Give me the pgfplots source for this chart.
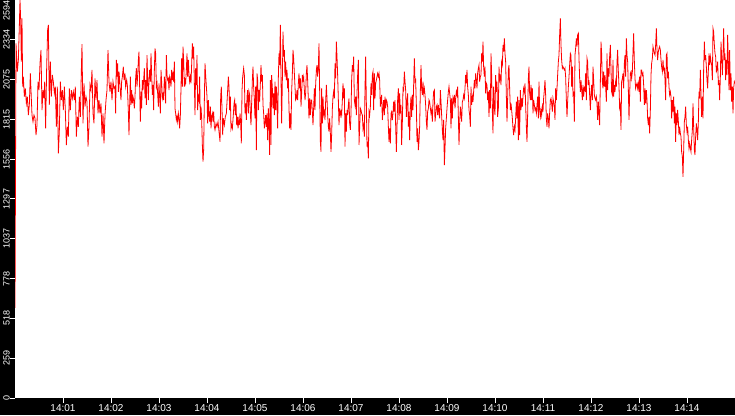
\documentclass[border=0pt]{standalone}
\usepackage{fontspec}
\setmainfont{Liberation Sans}
\usepackage{pgfplots}
\pgfplotsset{compat=1.18}

\begin{document}
\begin{tikzpicture}[x=1pt,y=1pt]
% black frame behind the plot area
\fill[black] (0,0) rectangle (735,415);
\begin{axis}[
    at={(15pt,17pt)}, anchor=south west,
    scale only axis,
    width=720pt, height=398pt,
    xmin=0, xmax=900,
    ymin=0, ymax=2594,
    axis background/.style={fill=white},
    axis line style={draw=none},
    tick align=outside,
    major tick length=5pt,
    every tick/.style={white, line width=1pt},
    xtick={60,120,180,240,300,360,420,480,540,600,660,720,780,840},
    xticklabels={14:01,14:02,14:03,14:04,14:05,14:06,14:07,14:08,14:09,14:10,14:11,14:12,14:13,14:14},
    ytick={0,259.4,518.8,778.2,1037.6,1297,1556.4,1815.8,2075.2,2334.6,2594},
    yticklabels={0,259,518,778,1037,1297,1556,1815,2075,2334,\makebox[0pt][r]{2594}},
    xtick pos=bottom, ytick pos=left,
    minor tick num=0,
    /pgf/number format/assume math mode=true,
    xticklabel style={white, font=\fontsize{10}{10}\selectfont, anchor=north, inner sep=0pt, yshift=-1pt},
    yticklabel style={white, font=\fontsize{9}{9}\selectfont, rotate=90, anchor=south, inner sep=0pt},
    clip=true,
]
\addplot[red, line width=0.8pt, no markers, sharp plot] coordinates {
(0,587)(1.25,2311)(2.9,2127)(4.2,2203)(5.4,2420)(6.25,2594)(7.1,2464)(7.9,2192)(8.75,2474)(9.6,2029)
(10.4,2094)(11.7,1964)(12.9,2018)(14.2,1920)(15.4,1964)(16.7,1844)(17.9,1910)(19.2,2116)(20.4,1953)(21.25,1844)
(22.5,1801)(23.75,1844)(25,1823)(26.25,1714)(27.5,1779)(28.75,2062)(30,2007)(31.25,2181)(32.5,2268)(33.75,1877)
(35,2007)(36.25,1953)(37.1,2062)(38.3,1757)(39.6,2159)(40.8,2398)(41.7,2431)(42.9,1910)(44.2,2192)(45.4,1964)
(46.7,2105)(47.9,2062)(49.2,1986)(50.4,2029)(51.7,1768)(52.9,2029)(54.2,1594)(55.4,1736)(56.7,2062)(57.9,1942)
(59.2,2007)(60.4,1877)(61.7,2029)(62.9,1877)(64.2,1649)(65.4,1768)(66.7,1703)(67.9,2018)(69.2,1877)(70.4,2007)
(71.7,1953)(72.9,1996)(74.2,1942)(75.4,2029)(76.7,1703)(77.9,1833)(79.2,1768)(80.4,1964)(81.7,1833)(82.9,2127)
(83.75,2307)(85,1790)(86.25,2051)(87.5,1899)(88.75,1964)(90,1931)(91.25,1638)(92.5,1768)(93.75,2040)(95,2007)
(96.25,2138)(97.5,1855)(98.75,1790)(100,2083)(101.25,1942)(102.5,2072)(103.75,1855)(105,1942)(106.25,1855)(107.5,1920)
(108.75,1703)(110,1855)(111.25,1660)(112.5,1844)(113.75,1942)(115,2007)(116.25,2268)(117.5,2062)(118.75,1996)(120,2062)
(121.25,1942)(122.5,2062)(123.75,2018)
(125.0,2029)(125.8,1855)(126.7,2203)(127.5,2094)(128.3,2181)(129.2,1996)(130.0,2127)(130.8,2072)(131.7,1996)(132.5,1942)
(133.3,2062)(134.2,2094)(135.4,2159)(136.3,2072)(137.5,2116)(138.3,2029)(139.6,2072)(140.4,2040)(141.7,1866)(142.5,1714)
(143.3,1910)(144.2,2094)(145.0,1910)(145.8,2007)(146.7,1920)(147.5,1964)(148.3,1942)(149.2,1888)(150.0,1964)(150.8,2083)
(151.7,2149)(152.5,2029)(153.3,2094)(154.2,2203)(155.0,2257)(155.8,2029)(156.7,1801)(157.5,1996)(158.3,1888)(159.2,2072)
(160.0,2007)(160.8,2072)(161.7,2149)(162.5,1953)(163.3,2072)(164.2,1910)(165.0,2235)(165.8,2083)(166.7,1942)(167.5,2072)
(168.3,2138)(169.2,2062)(170.0,2246)(170.8,2105)(171.7,1975)(172.5,2040)(173.3,1877)(174.2,2138)(175.0,2279)(175.8,2246)
(176.7,2029)(177.5,2051)(178.3,1986)(179.2,1899)(180.0,2051)(180.8,1964)(181.7,1855)(182.5,2138)(183.3,2062)(184.2,1953)
(185.0,1975)(185.8,1942)(186.7,2094)(187.5,2051)(188.3,1920)(189.2,2235)(190.0,2105)(190.8,2072)(191.7,2083)(192.5,2007)
(193.3,2094)(194.2,2072)(195.0,2029)(195.8,2138)(196.7,2072)(197.5,2127)(198.3,2062)(199.2,2192)(200.0,1888)(200.8,1855)
(201.7,1812)(202.5,1833)(203.3,1801)(204.2,1855)(205.0,1823)(205.8,1757)(206.7,1844)(207.5,2018)(208.3,2214)(209.2,2029)
(210.0,2290)(210.8,2203)(211.7,2029)(212.5,2072)(213.3,2051)(214.2,2138)(215.0,2246)(215.8,2094)(216.7,2203)(217.5,2105)
(218.3,2062)(219.2,2094)(220.0,2051)(220.8,2170)(221.7,2311)(222.5,2214)(223.3,2290)(224.2,2051)(225.0,1844)(225.8,2149)
(226.7,2040)(227.5,2235)(228.3,1877)(229.2,1964)(230.0,1942)(230.8,2094)(231.7,1812)(232.5,1899)(233.3,1823)(234.2,1649)
(235.0,1540)(235.8,1616)(236.7,1942)(237.5,2181)(238.3,2105)(239.2,2029)(240.0,1964)(240.8,1790)(241.7,1942)(242.5,1844)
(243.3,1801)(244.2,1899)(245.0,1757)(245.8,1833)(246.7,1855)(247.5,1801)(248.3,1866)(249.2,1768)
(250.0,1747)(251.3,1790)(252.5,1768)(253.8,1801)(255.0,1736)(256.3,1670)(257.1,1964)(257.9,2029)(258.8,1877)(259.6,1714)
(260.4,1823)(261.7,1779)(262.9,1833)(264.2,1855)(265.4,1964)(266.7,2094)(267.5,2029)(268.3,1877)(269.2,1964)(270.0,1757)
(270.8,1779)(271.7,1757)(272.9,1844)(273.8,1920)(274.6,1942)(275.4,1844)(276.3,1920)(277.1,1779)(277.9,1833)(278.8,1757)
(279.6,1812)(280.4,1779)(281.3,1855)(282.1,1790)(282.9,1660)(283.8,2007)(284.6,2094)(285.8,2149)(286.7,2105)(287.5,1855)
(288.3,1920)(289.2,1812)(290.0,1964)(290.8,2007)(291.7,1855)(292.5,1996)(293.3,1975)(294.2,1855)(295.0,1779)(295.8,1920)
(296.7,2072)(297.5,2159)(298.3,2029)(299.2,1942)(300.0,1823)(300.8,2029)(301.7,1616)(302.5,2116)(303.3,2072)(304.2,1877)
(305.0,2007)(305.8,1931)(306.7,2051)(307.5,2170)(308.3,2062)(309.2,2105)(310.0,1910)(310.8,1855)(311.7,1757)(312.5,1790)
(313.3,1844)(314.2,1768)(315.0,1855)(315.8,1681)(316.7,1888)(317.5,1801)(318.3,1584)(319.2,2072)(320.0,1649)(320.8,2105)
(321.7,2018)(322.5,1888)(323.3,1986)(324.2,1844)(325.0,2062)(325.8,1877)(326.7,2029)(327.5,1910)(328.3,1757)(329.2,2094)
(330.0,2246)(330.8,2170)(331.7,2431)(332.5,2094)(333.3,1790)(334.2,2072)(335.0,2388)(335.8,2225)(336.7,2268)(337.5,2094)
(338.3,2192)(339.2,2072)(340.0,2138)(340.8,2018)(341.7,2083)(342.5,1888)(343.3,1757)(344.2,1855)(345.0,1747)(345.8,1996)
(346.7,2116)(347.5,2268)(348.3,2214)(349.2,2116)(350.0,2029)(350.8,1942)(351.7,1953)(352.5,2007)(353.3,1942)(354.2,2051)
(355.0,2116)(355.8,2018)(356.7,2083)(357.5,1899)(358.3,1986)(359.2,2105)(360.0,2072)(360.8,2094)(361.7,2007)(362.5,1942)
(363.3,1986)(364.2,2116)(365.0,2170)(365.8,2072)(366.7,1942)(367.5,1823)(368.3,1953)(369.2,1844)(370.0,1942)(370.8,1942)
(371.7,1866)(372.5,1779)(373.3,1888)(374.2,2018)
(375.0,1877)(375.8,2040)(376.7,2138)(377.5,2170)(378.3,2094)(379.2,2159)(380.0,2311)(380.8,2007)(381.7,1670)(382.5,1605)
(383.3,2018)(384.2,1790)(385.0,1964)(385.8,1844)(386.7,1866)(387.5,1812)(388.3,1931)(389.2,2040)(390.0,1953)(390.8,1844)
(391.7,1768)(392.5,1736)(393.3,1823)(394.2,1725)(395.0,1605)(395.8,1714)(396.7,1888)(397.5,1964)(398.3,1996)(399.2,1953)
(400.0,2181)(400.8,2083)(401.7,2322)(402.5,2225)(403.3,2105)(404.2,1942)(405.0,1779)(405.8,1888)(406.7,1844)(407.5,1866)
(408.3,1844)(409.2,1942)(410.0,2051)(410.8,1953)(411.7,2018)(412.5,1638)(413.3,1855)(414.2,1736)(415.0,1877)(415.8,1844)
(416.7,1910)(417.5,1953)(418.3,1790)(419.2,1747)(420.0,1855)(420.8,2072)(421.7,2170)(422.5,2127)(423.3,2225)(424.2,1942)
(425.0,1910)(425.8,1964)(426.7,1844)(427.5,1986)(428.3,2105)(429.2,2203)(430.0,1649)(430.8,1757)(431.7,1888)(432.5,1877)
(433.3,1855)(434.2,1844)(435.0,1757)(435.8,1779)(436.7,1703)(437.5,2018)(438.3,2225)(439.2,1920)(440.0,1638)(440.8,1670)
(441.7,1562)(442.5,1866)(443.3,1844)(444.2,1899)(445.0,2051)(445.8,1975)(446.7,2105)(447.5,2127)(448.3,1877)(449.2,2116)
(450.0,1953)(450.8,2051)(451.7,2072)(452.5,2094)(453.3,2116)(454.2,2094)(455.0,2116)(455.8,2072)(456.7,1899)(457.5,1942)
(458.3,1975)(459.2,1812)(460.0,1877)(460.8,1942)(461.7,1844)(462.5,1964)(463.3,1888)(464.2,1942)(465.0,1931)(465.8,1899)
(466.7,1768)(467.5,1670)(468.3,1757)(469.2,1660)(470.0,1855)(470.8,1866)(471.7,1812)(472.5,1855)(473.3,1931)(474.2,1866)
(475.0,1942)(475.8,1779)(476.7,1605)(477.5,1757)(478.3,1942)(479.2,2018)(480.0,1812)(480.8,1986)(481.7,1855)(482.5,1910)
(483.3,1649)(484.2,1801)(485.0,2018)(485.8,2007)(486.7,2127)(487.5,2062)(488.3,2007)(489.2,1833)(490.0,1931)(490.8,1986)
(491.7,1768)(492.5,1866)(493.3,1681)(494.2,1888)(495.0,1964)(495.8,1833)(496.7,1975)(497.5,1877)(498.3,2040)(499.2,2214)
(500.0,2062)(500.8,2072)(501.7,1910)(502.5,1670)(503.3,1757)(504.2,1616)(505.0,1670)(505.8,1768)(506.7,2007)(507.5,2170)
(508.3,2018)(509.2,1975)(510.0,2062)(510.8,1986)(511.7,2018)(512.5,1975)(513.3,1910)(514.2,1801)(515.0,1747)(515.8,1866)
(516.7,1888)(517.5,1942)(518.3,1931)(519.2,1888)(520.0,1855)(520.8,1877)(521.7,1801)(522.5,1931)(523.3,1996)(524.2,2007)
(525.0,1801)(525.8,1844)(526.7,1899)(527.5,1910)(528.3,1844)(529.2,1910)(530.0,1855)(530.8,1823)(531.7,2007)(532.5,1931)
(533.3,1844)(534.2,1747)(535.0,1681)(535.8,1812)(536.7,1518)(537.5,1627)(538.3,1757)(539.2,1823)(540.0,1888)(540.8,1942)
(541.7,1996)(542.5,2029)(543.3,1986)(544.2,1942)(545.0,1757)(545.8,1953)(546.7,1823)(547.5,1953)(548.3,1931)(549.2,1975)
(550.0,1888)(550.8,1953)(551.7,1996)(552.5,1975)(553.3,2029)(554.2,1833)(555.0,1649)(555.8,1790)(556.7,1899)(557.5,1855)
(558.3,1801)(559.2,1931)(560.0,1942)(560.8,1975)(561.7,1953)(562.5,2018)(563.3,2105)(564.2,2051)(565.0,2138)(565.8,2029)
(566.7,1975)(567.5,1877)(568.3,1844)(569.2,1768)(570.0,2029)(570.8,1910)(571.7,1964)(572.5,1931)(573.3,1996)(574.2,2072)
(575.0,2018)(575.8,2116)(576.7,2072)(577.5,2018)(578.3,2116)(579.2,2149)(580.0,2170)(580.8,2062)(581.7,2094)(582.5,2105)
(583.3,2246)(584.2,2192)(585.0,2322)(585.8,2159)(586.7,2094)(587.5,2159)(588.3,1986)(589.2,2051)(590.0,2040)(590.8,1942)
(591.7,1996)(592.5,1833)(593.3,2007)(594.2,1888)(595.0,2246)(595.8,2105)(596.7,1866)(597.5,1725)(598.3,2029)(599.2,1888)
(600.0,1844)(600.8,2105)(601.7,1996)(602.5,2062)(603.3,1833)(604.2,1888)(605.0,2159)(605.8,2072)(606.7,2094)(607.5,2040)
(608.3,2192)(609.2,2170)(610.0,2301)(610.8,2257)(611.7,2344)(612.5,2246)(613.3,2192)(614.2,1964)(615.0,1801)(615.8,1953)
(616.7,2138)(617.5,2170)(618.3,2018)(619.2,1877)(620.0,1920)(620.8,1877)(621.7,1823)(622.5,1757)(623.3,1714)(624.2,1768)
(625.0,1747)(625.8,1823)(626.7,1931)(627.5,1823)(628.3,1964)(629.2,1681)(630.0,1942)(630.8,1714)(631.7,2007)(632.5,1877)
(633.3,1953)(634.2,1899)(635.0,1964)(635.8,2018)(636.7,1996)(637.5,2051)(638.3,1910)(639.2,1768)(640.0,1670)(640.8,1844)
(641.7,2083)(642.5,2159)(643.3,1986)(644.2,1942)(645.0,2040)(645.8,1942)(646.7,2018)(647.5,1855)(648.3,1942)(649.2,1910)
(650.0,1877)(650.8,1888)(651.7,1855)(652.5,1910)(653.3,1964)(654.2,1823)(655.0,2062)(655.8,1877)(656.7,1833)(657.5,1877)
(658.3,1844)(659.2,1899)(660.0,1866)(660.8,1953)(661.7,2007)(662.5,2072)(663.3,1975)(664.2,1823)(665.0,1768)(665.8,1855)
(666.7,1823)(667.5,1757)(668.3,1855)(669.2,1942)(670.0,1953)(670.8,1920)(671.7,1866)(672.5,1953)(673.3,1931)(674.2,1899)
(675.0,1812)(675.8,2018)(676.7,1942)(677.5,2018)(678.3,2105)(679.2,2192)(680.0,2235)(680.8,2366)(681.7,2474)(682.5,2301)
(683.3,2203)(684.2,2149)(685.0,2159)(685.8,2149)(686.7,2138)(687.5,2149)(688.3,2094)(689.2,1942)(690.0,1833)(690.8,1931)
(691.7,2029)(692.5,2094)(693.3,2170)(694.2,2246)(695.0,2235)(695.8,2029)(696.7,2159)(697.5,1975)(698.3,1986)(699.2,1801)
(700.0,2235)(700.8,2279)(701.7,2344)(702.5,2290)(703.3,2366)(704.2,2377)(705.0,2214)(705.8,2083)(706.7,1996)(707.5,2072)
(708.3,2007)(709.2,1942)(710.0,2040)(710.8,1964)(711.7,2018)(712.5,2007)(713.3,2116)(714.2,1942)(715.0,2214)(715.8,2192)
(716.7,2040)(717.5,2072)(718.3,1975)(719.2,1877)(720.0,1986)(720.8,2040)(721.7,1942)(722.5,2159)(723.3,2072)(724.2,1975)
(725.0,1953)(725.8,1942)(726.7,1964)(727.5,1920)(728.3,1812)(729.2,1931)(730.0,1855)(730.8,1779)(731.7,2062)(732.5,2322)
(733.3,2246)(734.2,2062)(735.0,2018)(735.8,2127)(736.7,2029)(737.5,2105)(738.3,2029)(739.2,1931)(740.0,2246)(740.8,2007)
(741.7,2149)(742.5,2094)(743.3,2225)(744.2,2301)(745.0,2138)(745.8,1996)(746.7,1975)(747.5,2203)(748.3,1964)(749.2,2040)
(750.0,1996)(750.8,2062)(751.7,2029)(752.5,2192)(753.3,2268)(754.2,2127)(755.0,2029)(755.8,1888)(756.7,1910)(757.5,1747)
(758.3,2062)(759.2,2083)(760.0,2116)(760.8,2018)(761.7,2181)(762.5,2235)(763.3,2094)(764.2,2344)(765.0,2235)(765.8,2192)
(766.7,2007)(767.5,1812)(768.3,1975)(769.2,2116)(770.0,2127)(770.8,2083)(771.7,2127)(772.5,2257)(773.3,2377)(774.2,2192)
(775.0,2083)(775.8,2018)(776.7,2040)(777.5,2051)(778.3,2018)(779.2,2051)(780.0,1996)(780.8,2094)(781.7,1931)(782.5,2138)
(783.3,2138)(784.2,2105)(785.0,2116)(785.8,2040)(786.7,1910)(787.5,2018)(788.3,1920)(789.2,2007)(790.0,1942)(790.8,1823)
(791.7,1779)(792.5,1833)(793.3,1725)(794.2,1877)(795.0,2105)(795.8,2181)(796.7,2214)(797.5,2290)(798.3,2268)(799.2,2246)
(800.0,2235)(800.8,2301)(801.7,2409)(802.5,2268)(803.3,2203)(804.2,2257)(805.0,2279)(805.8,2290)(806.7,2268)(807.5,2203)
(808.3,2159)(809.2,2127)(810.0,2203)(810.8,2138)(811.7,2149)(812.5,2072)(813.3,1942)(814.2,2235)(815.0,2246)(815.8,2083)
(816.7,2127)(817.5,2029)(818.3,1975)(819.2,1996)(820.0,1964)(820.8,1823)(821.7,1942)(822.5,1866)(823.3,1964)(824.2,1790)
(825.0,1899)(825.8,1670)(826.7,1855)(827.5,1779)(828.3,1877)(829.2,1801)(830.0,1714)(830.8,1768)(831.7,1725)(832.5,1703)
(833.3,1605)(834.2,1573)(835.0,1442)(835.8,1605)(836.7,1801)(837.5,1833)(838.3,1899)(839.2,1779)(840.0,1736)(840.8,1768)
(841.7,1681)(842.5,1627)(843.3,1660)(844.2,1627)(845.0,1605)(845.8,1681)(846.7,1747)(847.5,1920)(848.3,1768)(849.2,1616)
(850.0,1584)(850.8,1703)(851.7,1790)(852.5,1747)(853.3,1681)(854.2,1801)(855.0,1996)(855.8,1953)(856.7,2138)(857.5,1975)
(858.3,1833)(859.2,1964)(860.0,1823)(860.8,2138)(861.7,2322)(862.5,2203)(863.3,2235)(864.2,2159)(865.0,2072)(865.8,2018)
(866.7,2138)(867.5,2246)(868.3,2170)(869.2,2225)(870.0,2192)(870.8,2170)(871.7,2072)(872.5,2409)(873.3,2388)(874.2,2301)
(875.0,2246)(875.8,2225)(876.7,2127)(877.5,2138)(878.3,2192)(879.2,2040)(880.0,2072)(880.8,1942)(881.7,2094)(882.5,2322)
(883.3,2225)(884.2,2105)(885.0,2225)(885.8,2409)(886.7,2203)(887.5,2246)(888.3,2072)(889.2,2203)(890.0,2105)(890.8,2366)
(891.7,2192)(892.5,2007)(893.3,2268)(894.2,2007)(895.0,2116)(895.8,1931)(896.7,2029)(897.5,1855)(898.3,2018)(899.2,2062)
(900.0,2051)
};
\end{axis}
\pgfresetboundingbox
\useasboundingbox (0,0) rectangle (735,415);
\end{tikzpicture}
\end{document}
